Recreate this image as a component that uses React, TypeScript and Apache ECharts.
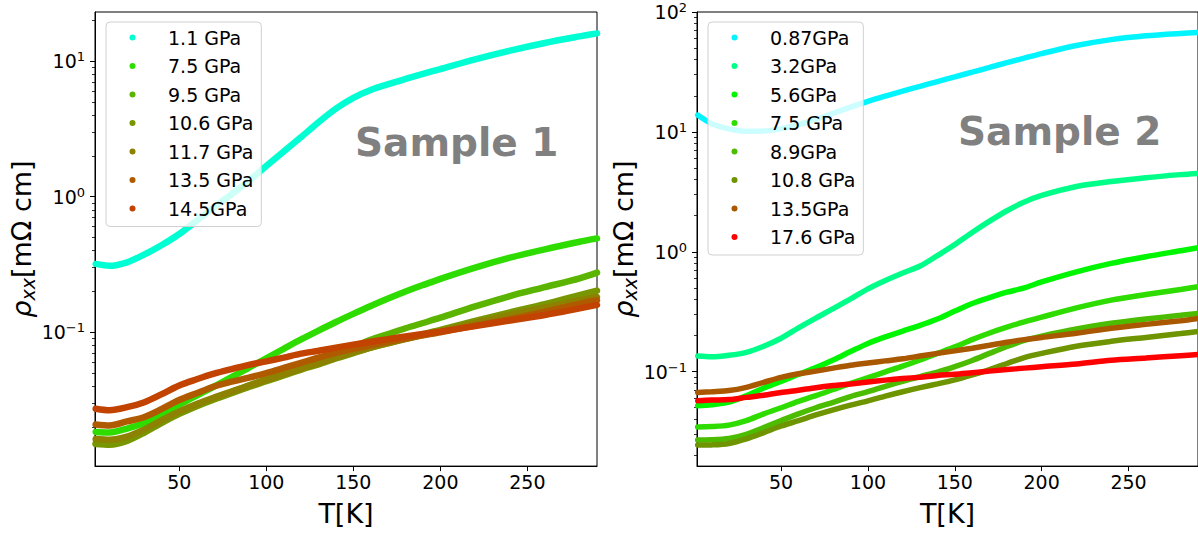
import React, { useEffect, useRef } from "react";
import * as echarts from "echarts";

// Temperatures (K), shared sampling grid for every curve
const T1 = [2, 10, 20, 30, 40, 50, 60, 70, 80, 90, 100, 110, 120, 130, 140, 150, 160, 170, 180, 190, 200, 220, 240, 260, 280, 290];
const T2 = [2, 10, 20, 30, 40, 50, 60, 70, 80, 90, 100, 110, 120, 130, 140, 150, 160, 170, 180, 190, 200, 220, 240, 260, 280, 290];

// Sample 1 resistivity (mΩ cm)
const rho1_1p1 = [0.319, 0.309, 0.328, 0.375, 0.44, 0.53, 0.665, 0.835, 1.04, 1.31, 1.68, 2.15, 2.75, 3.54, 4.46, 5.36, 6.12, 6.75, 7.38, 8.04, 8.73, 10.3, 11.94, 13.6, 15.2, 16.0];
const rho1_7p5 = [0.0184, 0.0182, 0.0195, 0.0214, 0.0248, 0.0292, 0.0341, 0.0398, 0.0466, 0.0547, 0.0643, 0.0755, 0.0885, 0.1028, 0.1189, 0.1365, 0.156, 0.177, 0.1995, 0.2228, 0.2477, 0.3, 0.355, 0.409, 0.4645, 0.492];
const rho1_9p5 = [0.0152, 0.015, 0.016, 0.0185, 0.0218, 0.0253, 0.029, 0.0326, 0.0363, 0.0405, 0.045, 0.05, 0.0555, 0.062, 0.069, 0.078, 0.088, 0.097, 0.107, 0.117, 0.128, 0.155, 0.185, 0.215, 0.25, 0.275];
const rho1_10p6 = [0.015, 0.0148, 0.0158, 0.0182, 0.0215, 0.025, 0.0285, 0.032, 0.0355, 0.0395, 0.0435, 0.048, 0.053, 0.058, 0.064, 0.07, 0.077, 0.083, 0.09, 0.097, 0.104, 0.121, 0.14, 0.161, 0.188, 0.203];
const rho1_11p7 = [0.0163, 0.0161, 0.017, 0.0192, 0.0225, 0.026, 0.0295, 0.033, 0.0365, 0.0405, 0.0445, 0.049, 0.054, 0.059, 0.065, 0.071, 0.077, 0.083, 0.089, 0.0955, 0.102, 0.117, 0.134, 0.152, 0.172, 0.182];
const rho1_13p5 = [0.0209, 0.0205, 0.022, 0.0237, 0.0272, 0.0316, 0.0355, 0.0398, 0.0432, 0.0462, 0.05, 0.0545, 0.0595, 0.065, 0.0705, 0.0755, 0.08, 0.085, 0.09, 0.095, 0.1, 0.112, 0.125, 0.142, 0.162, 0.172];
const rho1_14p5 = [0.0273, 0.0266, 0.028, 0.0305, 0.035, 0.0405, 0.045, 0.0495, 0.0535, 0.0575, 0.061, 0.065, 0.0695, 0.073, 0.077, 0.081, 0.085, 0.089, 0.093, 0.097, 0.101, 0.111, 0.122, 0.134, 0.15, 0.159];

// Sample 2 resistivity (mΩ cm)
const rho2_0p87 = [13.8, 11.7, 10.6, 10.1, 10.15, 10.65, 11.5, 12.7, 14.3, 16.1, 18.0, 19.9, 21.9, 24.0, 26.3, 28.8, 31.5, 34.5, 37.8, 41.3, 45.0, 52.5, 58.8, 63.4, 66.3, 67.3];
const rho2_3p2 = [0.135, 0.133, 0.137, 0.145, 0.163, 0.19, 0.232, 0.28, 0.335, 0.405, 0.49, 0.575, 0.665, 0.76, 0.93, 1.15, 1.45, 1.8, 2.2, 2.6, 2.95, 3.5, 3.85, 4.15, 4.4, 4.5];
const rho2_5p6 = [0.052, 0.053, 0.0557, 0.063, 0.073, 0.083, 0.095, 0.108, 0.125, 0.147, 0.172, 0.195, 0.218, 0.243, 0.275, 0.32, 0.37, 0.415, 0.46, 0.5, 0.56, 0.68, 0.8, 0.91, 1.02, 1.08];
const rho2_7p5 = [0.0346, 0.0348, 0.0358, 0.039, 0.0445, 0.05, 0.0565, 0.063, 0.071, 0.08, 0.089, 0.0995, 0.111, 0.125, 0.142, 0.161, 0.185, 0.21, 0.235, 0.26, 0.285, 0.34, 0.395, 0.44, 0.485, 0.51];
const rho2_8p9 = [0.0269, 0.027, 0.0277, 0.03, 0.0342, 0.039, 0.0445, 0.05, 0.0555, 0.062, 0.068, 0.0755, 0.083, 0.091, 0.099, 0.11, 0.124, 0.142, 0.162, 0.182, 0.198, 0.227, 0.253, 0.275, 0.295, 0.306];
const rho2_10p8 = [0.0244, 0.0245, 0.0252, 0.0275, 0.031, 0.0352, 0.039, 0.0435, 0.048, 0.0525, 0.057, 0.0625, 0.068, 0.0735, 0.079, 0.0855, 0.094, 0.104, 0.117, 0.131, 0.142, 0.163, 0.179, 0.193, 0.208, 0.216];
const rho2_13p5 = [0.0671, 0.068, 0.0695, 0.074, 0.0815, 0.0895, 0.096, 0.101, 0.107, 0.113, 0.118, 0.123, 0.128, 0.135, 0.142, 0.149, 0.157, 0.166, 0.176, 0.185, 0.193, 0.209, 0.23, 0.248, 0.266, 0.278];
const rho2_17p6 = [0.0571, 0.058, 0.0585, 0.061, 0.0635, 0.067, 0.07, 0.0735, 0.0765, 0.079, 0.082, 0.085, 0.0875, 0.09, 0.093, 0.095, 0.098, 0.101, 0.104, 0.107, 0.11, 0.116, 0.1245, 0.13, 0.136, 0.139];

const names1 = ["1.1 GPa", "7.5 GPa", "9.5 GPa", "10.6 GPa", "11.7 GPa", "13.5 GPa", "14.5GPa"];
const values1 = [rho1_1p1, rho1_7p5, rho1_9p5, rho1_10p6, rho1_11p7, rho1_13p5, rho1_14p5];
const colors1 = ["#00ffd2", "#2edc00", "#5ab400", "#789600", "#8c8200", "#b05a00", "#c24200"];

const names2 = ["0.87GPa", "3.2GPa", "5.6GPa", "7.5 GPa", "8.9GPa", "10.8 GPa", "13.5GPa", "17.6 GPa"];
const values2 = [rho2_0p87, rho2_3p2, rho2_5p6, rho2_7p5, rho2_8p9, rho2_10p8, rho2_13p5, rho2_17p6];
const colors2 = ["#00f5ff", "#00ff88", "#00f500", "#2edc00", "#4cbc00", "#6e9400", "#aa5800", "#ff0000"];

// Ticks
const xTicks = [50, 100, 150, 200, 250];
const yMajor1 = [0.1, 1, 10];
const yMinor1 = [0.02, 0.03, 0.04, 0.05, 0.06, 0.07, 0.08, 0.09, 0.2, 0.3, 0.4, 0.5, 0.6, 0.7, 0.8, 0.9, 2, 3, 4, 5, 6, 7, 8, 9, 20];
const yMajor2 = [0.1, 1, 10, 100];
const yMinor2 = [0.02, 0.03, 0.04, 0.05, 0.06, 0.07, 0.08, 0.09, 0.2, 0.3, 0.4, 0.5, 0.6, 0.7, 0.8, 0.9, 2, 3, 4, 5, 6, 7, 8, 9, 20, 30, 40, 50, 60, 70, 80, 90];

const xMin = 1.6;
const xMax = 290;
const yRange1 = [0.0103, 23];
const yRange2 = [0.0163, 100];

const FONT = "DejaVu Sans";

// legend marker: a 6px dot placed 14.5px into a 45px-wide icon box
const LEGEND_ICON = "path://M0,3L0,3M11.5,3A3,3,0,1,0,17.5,3A3,3,0,1,0,11.5,3ZM45,3L45,3";

function supLabel(v: number) {
  const e = Math.round(Math.log10(v));
  const s = e < 0 ? "\u2212" + String(-e) : String(e);
  return "10{sup|" + s + "}";
}

function makeXAxis(gridIndex: number) {
  return {
    type: "value",
    gridIndex,
    min: xMin,
    max: xMax,
    name: "T[K]",
    nameLocation: "middle",
    nameGap: 27,
    nameTextStyle: { fontSize: 27, fontFamily: FONT, color: "#000", lineHeight: 30 },
    axisLine: { show: true, lineStyle: { color: "#000", width: 1 } },
    axisTick: { show: true, length: 5, customValues: xTicks, lineStyle: { color: "#000", width: 1 } },
    axisLabel: { customValues: xTicks, fontSize: 19, fontFamily: FONT, color: "#000", margin: 5, lineHeight: 22 },
    splitLine: { show: false },
  };
}

const yName = "{r|\u03c1}{s|xx}{n|[m\u03a9 cm]}";
const yNameStyle = {
  fontFamily: FONT,
  color: "#000",
  rich: {
    r: { fontSize: 27, fontStyle: "italic", fontFamily: FONT, lineHeight: 32 },
    s: { fontSize: 19, fontStyle: "italic", fontFamily: FONT, lineHeight: 18, verticalAlign: "bottom" },
    n: { fontSize: 27, fontFamily: FONT, lineHeight: 32 },
  },
};

function makeYMajor(gridIndex: number, range: number[], ticks: number[]) {
  return {
    type: "log",
    gridIndex,
    min: range[0],
    max: range[1],
    position: "left",
    name: yName,
    nameLocation: "middle",
    nameRotate: 90,
    nameGap: 52,
    nameTextStyle: yNameStyle,
    axisLine: { show: true, lineStyle: { color: "#000", width: 1 } },
    axisTick: { show: true, length: 5, customValues: ticks, lineStyle: { color: "#000", width: 1 } },
    axisLabel: {
      customValues: ticks,
      formatter: supLabel,
      fontSize: 19,
      lineHeight: 22,
      fontFamily: FONT,
      color: "#000",
      margin: 10,
      rich: { sup: { fontSize: 13, lineHeight: 13, verticalAlign: "top", fontFamily: FONT, color: "#000" } },
    },
    splitLine: { show: false },
    minorTick: { show: false },
  };
}

function makeYMinor(gridIndex: number, range: number[], ticks: number[]) {
  return {
    type: "log",
    gridIndex,
    min: range[0],
    max: range[1],
    position: "left",
    axisLine: { show: false },
    axisTick: { show: true, length: 3, customValues: ticks, lineStyle: { color: "#000", width: 0.8 } },
    axisLabel: { show: false, customValues: ticks },
    splitLine: { show: false },
  };
}

function makeLegend(left: number, names: string[]) {
  return {
    left,
    top: 22,
    orient: "vertical",
    data: names,
    icon: LEGEND_ICON,
    itemWidth: 45,
    itemHeight: 6,
    itemGap: 8.5,
    padding: [5.5, 8, 8, 12],
    backgroundColor: "rgba(255,255,255,0.8)",
    borderColor: "#d0d0d0",
    borderWidth: 1,
    borderRadius: 4,
    selectedMode: false,
    itemStyle: { borderWidth: 0 },
    textStyle: {
      fontSize: 19,
      lineHeight: 20,
      fontFamily: FONT,
      color: "#000",
    },
  };
}

export default function App() {
  const ref = useRef<HTMLDivElement>(null);
  useEffect(() => {
    if (!ref.current) return;
    const chart = echarts.init(ref.current, null, { renderer: "svg" });

    const series: any[] = [];
    names1.forEach((n, i) => {
      series.push({
        type: "line",
        name: n,
        xAxisIndex: 0,
        yAxisIndex: 0,
        data: T1.map((t, k) => [t, values1[i][k]]),
        showSymbol: false,
        smooth: 0.3,
        color: colors1[i],
        lineStyle: { width: 6.5, color: colors1[i], cap: "round" },
        z: 2,
      });
    });
    names2.forEach((n, i) => {
      series.push({
        type: "line",
        name: n,
        xAxisIndex: 1,
        yAxisIndex: 2,
        data: T2.map((t, k) => [t, values2[i][k]]),
        showSymbol: false,
        smooth: 0.3,
        color: colors2[i],
        lineStyle: { width: 5.5, color: colors2[i], cap: "round" },
        z: 2,
      });
    });

    const option: any = {
      animation: false,
      backgroundColor: "#ffffff",
      textStyle: { fontFamily: FONT },
      grid: [
        { left: 95, top: 12, width: 502, height: 460, show: true, borderColor: "#000", borderWidth: 1, backgroundColor: "transparent" },
        { left: 697, top: 12, width: 504, height: 460, show: true, borderColor: "#000", borderWidth: 1, backgroundColor: "transparent" },
      ],
      xAxis: [makeXAxis(0), makeXAxis(1)],
      yAxis: [
        makeYMajor(0, yRange1, yMajor1),
        makeYMinor(0, yRange1, yMinor1),
        makeYMajor(1, yRange2, yMajor2),
        makeYMinor(1, yRange2, yMinor2),
      ],
      legend: [makeLegend(106, names1), makeLegend(708, names2)],
      graphic: [
        {
          type: "text",
          x: 355,
          y: 142.5,
          style: { text: "Sample 1", font: 'bold 39px "DejaVu Sans"', fill: "#808080", align: "left", verticalAlign: "middle" },
          z: 10,
        },
        {
          type: "text",
          x: 958,
          y: 131.5,
          style: { text: "Sample 2", font: 'bold 39px "DejaVu Sans"', fill: "#808080", align: "left", verticalAlign: "middle" },
          z: 10,
        },
      ],
      series,
    };
    chart.setOption(option);
    return () => chart.dispose();
  }, []);
  return (
    <div
      ref={ref}
      style={{ position: "absolute", left: 0, top: 0, width: 1198, height: 533, background: "#fff" }}
    />
  );
}
